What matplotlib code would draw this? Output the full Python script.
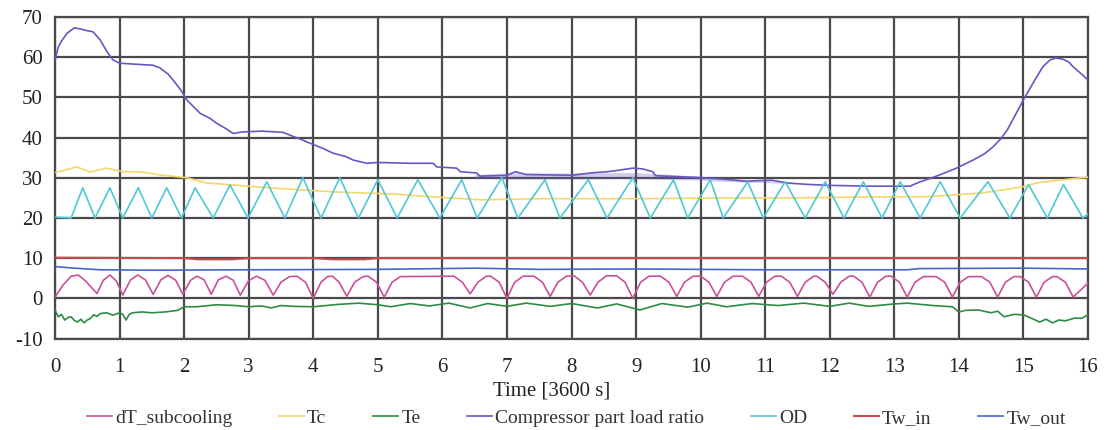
import matplotlib
matplotlib.use("Agg")
import matplotlib.pyplot as plt

plt.rcParams['font.family'] = ['Liberation Serif', 'DejaVu Serif']
plt.rcParams['axes.unicode_minus'] = False

# ---- data (time in units of 3600 s) ----
plr_t = [0, 0.05, 0.1, 0.19, 0.3, 0.4, 0.5, 0.59, 0.7, 0.8, 0.9, 1.0, 1.2, 1.52, 1.63,
         1.75, 1.83, 1.95, 2.04, 2.15, 2.25, 2.4, 2.5, 2.65, 2.76, 2.9, 3.2, 3.53, 3.64,
         3.8, 3.95, 4.15, 4.31, 4.5, 4.62, 4.83, 5.0, 5.5, 5.86, 5.91, 6.22, 6.28, 6.53,
         6.58, 7.0, 7.13, 7.3, 8.0, 8.3, 8.55, 8.7, 8.95, 9.1, 9.26, 9.3, 9.6, 10.04,
         10.3, 10.46, 10.7, 10.9, 11.1, 11.34, 11.6, 12.0, 12.67, 13.24, 13.4, 13.55,
         13.7, 13.95, 14.22, 14.4, 14.53, 14.65, 14.75, 14.87, 15.0, 15.15, 15.3, 15.41,
         15.5, 15.61, 15.7, 15.77, 15.9, 16.0]
plr_v = [59.3, 62.5, 64.0, 66.0, 67.3, 67.0, 66.6, 66.3, 64.3, 61.5, 59.3, 58.5, 58.3,
         58.0, 57.3, 55.8, 54.3, 51.8, 49.4, 47.6, 46.0, 44.8, 43.6, 42.2, 41.0, 41.4,
         41.6, 41.3, 40.6, 39.6, 38.6, 37.3, 36.1, 35.3, 34.4, 33.6, 33.8, 33.6, 33.6,
         32.7, 32.4, 31.5, 31.2, 30.4, 30.6, 31.5, 30.8, 30.6, 31.2, 31.5, 31.8, 32.4,
         32.2, 31.5, 30.5, 30.3, 30.0, 29.7, 29.5, 29.1, 29.3, 29.4, 28.7, 28.4, 28.1,
         27.9, 27.9, 29.0, 29.8, 30.7, 32.3, 34.4, 36.0, 37.7, 39.7, 41.9, 45.5, 49.4,
         53.6, 57.6, 59.3, 59.8, 59.5, 58.8, 57.6, 55.8, 54.3]
# flicker band of the part load ratio
band_t = [6.5, 7.0, 8.0, 9.0, 10.0, 10.5, 11.0, 11.3]
band_lo = [29.8, 29.7, 29.7, 29.8, 29.4, 29.0, 28.8, 28.6]
band_hi = [30.8, 31.2, 31.2, 31.3, 30.4, 29.8, 29.4, 28.9]

tc_t = [0, 0.08, 0.34, 0.54, 0.8, 1.05, 1.3, 1.63, 2.04, 2.35, 2.76, 3.3, 3.8, 4.3, 4.8,
        5.3, 5.8, 6.6, 7.6, 9.1, 10.6, 11.5, 12.5, 13.5, 14.0, 14.4, 14.7, 15.0, 15.2,
        15.5, 15.9, 16.0]
tc_v = [31.3, 31.6, 32.7, 31.4, 32.4, 31.5, 31.5, 30.7, 30.0, 28.7, 28.2, 27.5, 27.0,
        26.5, 26.2, 25.9, 25.3, 24.5, 24.8, 24.8, 25.0, 25.0, 25.2, 25.3, 25.8, 26.3,
        27.0, 27.8, 28.7, 29.3, 30.0, 30.1]

od_t = [0, 0.25, 0.43, 0.62, 0.85, 1.05, 1.29, 1.50, 1.73, 1.96, 2.17, 2.45, 2.71, 2.99,
        3.28, 3.56, 3.84, 4.12, 4.41, 4.70, 5.00, 5.30, 5.62, 5.96, 6.30, 6.54, 6.92,
        7.17, 7.59, 7.82, 8.26, 8.55, 8.95, 9.22, 9.58, 9.80, 10.15, 10.35, 10.73,
        10.97, 11.31, 11.62, 11.93, 12.22, 12.52, 12.81, 13.09, 13.40, 13.71, 14.02,
        14.45, 14.79, 15.08, 15.37, 15.62, 15.92, 16.0]
od_v = [20.2, 20.0, 27.5, 20.0, 27.5, 20.0, 27.5, 20.0, 27.5, 20.0, 27.5, 20.0, 28.2,
        20.0, 29.0, 20.0, 30.0, 20.0, 30.0, 20.0, 29.5, 20.0, 29.5, 20.0, 29.5, 20.0,
        30.0, 20.0, 29.5, 20.0, 29.5, 20.0, 30.0, 20.0, 29.5, 20.0, 29.5, 20.0, 29.0,
        20.0, 29.0, 20.0, 29.0, 20.0, 29.0, 20.0, 29.0, 20.0, 29.0, 20.0, 29.0, 20.0,
        28.3, 20.0, 28.3, 20.0, 21.0]

twin_t = [0, 2.0, 2.2, 2.75, 3.0, 4.0, 4.3, 4.8, 5.0, 8.0, 10.0, 12.0, 14.0, 16.0]
twin_v = [10.1, 10.0, 9.7, 9.7, 10.0, 10.0, 9.7, 9.7, 10.0, 10.0, 10.0, 10.0, 10.0, 10.0]

twout_t = [0, 0.3, 0.7, 1.5, 3.0, 5.0, 6.5, 7.5, 9.0, 11.0, 13.2, 13.4, 15.0, 16.0]
twout_v = [7.9, 7.5, 7.1, 7.0, 7.1, 7.2, 7.5, 7.2, 7.3, 7.1, 7.1, 7.4, 7.5, 7.3]

sub_t = [0, 0.12, 0.25, 0.36, 0.48, 0.65, 0.75, 0.85, 0.95, 1.05, 1.17, 1.28, 1.4, 1.52,
         1.64, 1.75, 1.87, 1.98, 2.1, 2.2, 2.31, 2.42, 2.53, 2.65, 2.76, 2.87, 3.0, 3.12,
         3.25, 3.38,
         3.5, 3.63, 3.75, 3.88, 4.0,
         4.12, 4.22, 4.3, 4.4, 4.52,
         4.64, 4.77, 4.85, 4.98, 5.1,
         5.22, 5.35, 6.18, 6.31, 6.43,
         6.55, 6.68, 6.75, 6.88, 7.0,
         7.12, 7.25, 7.42, 7.55, 7.67,
         7.79, 7.92, 8.04, 8.17, 8.29,
         8.41, 8.54, 8.7, 8.83, 8.95,
         9.07, 9.2, 9.38, 9.51, 9.63,
         9.75, 9.88, 10.0, 10.13, 10.25,
         10.37, 10.5, 10.65, 10.78, 10.9,
         11.02, 11.15, 11.25, 11.38, 11.5,
         11.62, 11.75, 11.8, 11.93, 12.05,
         12.17, 12.3, 12.37, 12.5, 12.62,
         12.74, 12.87, 12.95, 13.08, 13.2,
         13.32, 13.45, 13.65, 13.78, 13.9,
         14.02, 14.15, 14.35, 14.48, 14.6,
         14.72, 14.85, 14.95, 15.08, 15.2,
         15.32, 15.45, 15.52, 15.65, 15.77,
         16.0]
sub_v = [0.3, 3.2, 5.5, 5.8, 4.2, 1.2, 4.5, 5.8, 4.3, 0.8, 4.6, 5.8, 4.6, 1.0, 4.6, 5.7,
         4.5, 1.0, 4.5, 5.5, 4.6, 1.0, 4.6, 5.5, 4.5, 0.8, 4.4, 5.5, 4.5, 0.8,
         4.0, 5.4, 5.5, 4.0, 0.0,
         4.0, 5.4, 5.5, 4.0, 0.5,
         4.0, 5.4, 5.5, 4.0, 0.3,
         4.0, 5.4, 5.5, 4.0, 1.1,
         4.0, 5.5, 5.5, 4.0, 0.0,
         4.0, 5.5, 5.5, 4.0, 0.5,
         4.0, 5.5, 5.6, 4.0, 0.8,
         4.0, 5.6, 5.6, 4.0, 0.0,
         4.0, 5.5, 5.5, 4.0, 0.5,
         4.0, 5.5, 5.5, 4.0, 0.5,
         4.0, 5.5, 5.5, 4.0, 0.5,
         4.0, 5.5, 5.5, 4.0, 0.5,
         4.0, 5.5, 5.5, 4.0, 1.0,
         4.0, 5.5, 5.5, 4.0, 0.3,
         4.0, 5.5, 5.5, 4.0, 0.3,
         4.0, 5.4, 5.4, 4.0, 0.3,
         4.0, 5.4, 5.4, 4.0, 0.3,
         4.0, 5.4, 5.4, 4.0, 0.3,
         4.0, 5.4, 5.4, 4.0, 0.3,
         3.8]

te_t = [0, 0.05, 0.1, 0.15, 0.2, 0.25, 0.3, 0.35, 0.4, 0.45, 0.5, 0.55, 0.6, 0.65, 0.7,
        0.8, 0.9, 1.0, 1.05, 1.1, 1.15, 1.2, 1.35, 1.5, 1.7, 1.9, 2.0, 2.2, 2.5, 2.8,
        3.0, 3.2, 3.35, 3.5, 3.7, 4.0, 4.4, 4.7, 5.0, 5.2, 5.5, 5.8, 6.1, 6.43, 6.7,
        7.0, 7.3, 7.67, 8.0, 8.4, 8.7, 9.06, 9.4, 9.8, 10.1, 10.4, 10.8, 11.2, 11.6,
        12.0, 12.3, 12.6, 13.0, 13.2, 13.6, 13.9, 14.0, 14.1, 14.3, 14.5, 14.6, 14.7,
        14.85, 15.0, 15.1, 15.25, 15.35, 15.45, 15.55, 15.65, 15.8, 15.9, 16.0]
te_v = [-2.9, -4.6, -4.0, -5.4, -4.8, -4.6, -5.5, -5.9, -5.2, -6.1, -5.4, -5.0, -4.1,
        -4.5, -3.8, -3.6, -4.2, -3.6, -4.0, -5.4, -4.0, -3.6, -3.4, -3.6, -3.4, -3.0,
        -2.1, -2.1, -1.6, -1.8, -2.1, -1.9, -2.4, -1.8, -2.0, -2.1, -1.5, -1.2, -1.6,
        -2.1, -1.3, -1.9, -1.2, -2.4, -1.3, -2.0, -1.2, -2.0, -1.3, -2.4, -1.4, -2.9,
        -1.3, -2.2, -1.2, -2.1, -1.3, -1.8, -1.2, -2.0, -1.2, -2.0, -1.4, -1.2, -1.8,
        -2.1, -3.4, -3.0, -2.9, -3.6, -3.2, -4.6, -4.0, -4.1, -4.8, -5.9, -5.2, -6.1,
        -5.4, -5.6, -4.9, -5.0, -4.1]

series_names = ['dT_subcooling', 'Tc', 'Te', 'Compressor part load ratio', 'OD',
                'Tw_in', 'Tw_out']
colors = ['#C9509A', '#F2D86A', '#2E8B45', '#6B55C4', '#4FC8D8', '#C84A4A', '#4A64CC']

fig = plt.figure(figsize=(11.04, 4.30), dpi=100)
ax = fig.add_axes([55 / 1104, 1 - 338.5 / 430, 1033 / 1104, 321.5 / 430])

lw = 1.2
ax.fill_between(band_t, band_lo, band_hi, color=colors[3], alpha=0.3, lw=0, zorder=2)
ax.plot(sub_t, sub_v, color=colors[0], lw=lw, label=series_names[0], zorder=3)
ax.plot(tc_t, tc_v, color=colors[1], lw=lw, label=series_names[1], zorder=3)
ax.plot(te_t, te_v, color=colors[2], lw=lw, label=series_names[2], zorder=3)
ax.plot(plr_t, plr_v, color=colors[3], lw=lw, label=series_names[3], zorder=3)
ax.plot(od_t, od_v, color=colors[4], lw=lw, label=series_names[4], zorder=3)
ax.plot(twin_t, twin_v, color=colors[5], lw=lw + 0.3, label=series_names[5], zorder=3)
ax.plot(twout_t, twout_v, color=colors[6], lw=lw, label=series_names[6], zorder=3)

ax.set_xlim(0, 16)
ax.set_ylim(-10, 70)
ax.set_xticks(range(0, 17))
ax.set_yticks(range(-10, 71, 10))
ax.grid(True, color='#4a4a4a', lw=1.6, zorder=1)
ax.set_axisbelow(True)
for s in ax.spines.values():
    s.set_color('#4a4a4a')
    s.set_linewidth(1.6)
ax.tick_params(axis='both', length=0, labelsize=15, colors='#222222')
ax.tick_params(axis='x', pad=14)
ax.tick_params(axis='y', pad=9)
ax.set_xlabel('Time [3600 s]', fontsize=15, color='#222222')
ax.xaxis.set_label_coords(0.481, -0.133)

leg = fig.legend(loc='center', bbox_to_anchor=(0.522, 0.028), ncol=7, frameon=False,
                 fontsize=14, handlelength=1.3, handletextpad=0.15, columnspacing=2.4)
for txt in leg.get_texts():
    txt.set_color('#333333')

fig.savefig('out.png', dpi=100)
